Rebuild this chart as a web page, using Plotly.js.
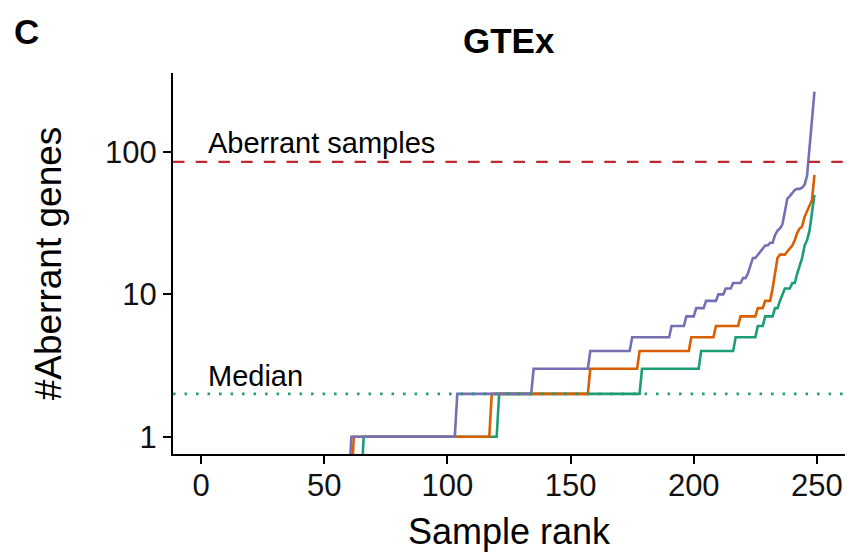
<!DOCTYPE html>
<html>
<head>
<meta charset="utf-8">
<script src="https://cdn.plot.ly/plotly-3.0.1.min.js"></script>
<style>html,body{margin:0;padding:0;background:#fff;}#chart{width:847px;height:557px;}</style>
</head>
<body>
<div id="chart"></div>
<script>
// Run-length data: first sample rank of each run and its #aberrant genes value
const nSamples = 249;
const purpleStart = [1, 61, 104, 135, 158, 175, 191, 197, 201, 205, 210, 213, 216, 220, 222, 223, 224, 226, 227, 228, 229, 231, 233, 234, 235, 236, 237, 238, 239, 240, 241, 242, 244, 245, 246, 247, 248, 249];
const purpleValue = [0, 1, 2, 3, 4, 5, 6, 7, 8, 9, 10, 11, 12, 13, 14, 16, 18, 19, 20, 21, 22, 23, 26, 28, 29, 31, 38, 47, 49, 51, 54, 55, 56, 59, 68, 110, 170, 265];
const orangeStart = [1, 62, 118, 158, 178, 199, 209, 219, 226, 229, 232, 233, 234, 235, 238, 239, 240, 241, 242, 243, 244, 245, 246, 247, 248, 249];
const orangeValue = [0, 1, 2, 3, 4, 5, 6, 7, 8, 9, 11, 14, 18, 19, 20, 21, 22, 24, 27, 29, 30, 35, 38, 42, 46, 69];
const greenStart = [1, 66, 121, 179, 203, 217, 226, 229, 233, 235, 236, 237, 240, 242, 243, 244, 245, 246, 247, 248, 249];
const greenValue = [0, 1, 2, 3, 4, 5, 6, 7, 8, 9, 10, 11, 12, 14, 16, 18, 22, 24, 28, 38, 50];
const aberrantThreshold = 85;
const medianValue = 2;
const xTicks = [0, 50, 100, 150, 200, 250];
const yTicks = [1, 10, 100];

const xRange = [-11.4, 261.4];
const yRange = [-0.121, 2.554];
const yFloor = 0.45; // zero counts: drawn below the panel floor (clipped)

function expand(starts, values) {
  const x = [], y = [];
  let k = 0;
  for (let r = 1; r <= nSamples; r++) {
    while (k + 1 < starts.length && starts[k + 1] <= r) k++;
    x.push(r);
    y.push(values[k] > 0 ? values[k] : yFloor);
  }
  return {x, y};
}

const g = expand(greenStart, greenValue);
const o = expand(orangeStart, orangeValue);
const p = expand(purpleStart, purpleValue);

const FONT = 'Liberation Sans, Arial, sans-serif';

const traces = [
  {x: g.x, y: g.y, mode: 'lines', line: {color: '#1B9E77', width: 2.6}, hoverinfo: 'skip'},
  {x: o.x, y: o.y, mode: 'lines', line: {color: '#D95F02', width: 2.6}, hoverinfo: 'skip'},
  {x: p.x, y: p.y, mode: 'lines', line: {color: '#7570B3', width: 2.6}, hoverinfo: 'skip'},
  {x: xRange, y: [aberrantThreshold, aberrantThreshold], mode: 'lines', line: {color: '#C0282D', width: 2.3, dash: '11.5px,11.2px'}, hoverinfo: 'skip'},
  {x: xRange, y: [medianValue, medianValue], mode: 'lines', line: {color: '#2A9B74', width: 2.8, dash: '2.6px,8.9px'}, hoverinfo: 'skip'}
];

const layout = {
  width: 847, height: 557,
  margin: {l: 173, r: 2, t: 73, b: 103},
  paper_bgcolor: '#fff', plot_bgcolor: '#fff',
  showlegend: false,
  font: {family: FONT, color: '#000'},
  xaxis: {
    range: xRange, showgrid: false, zeroline: false,
    showline: true, linecolor: '#000', linewidth: 2,
    ticks: 'outside', ticklen: 8, tickwidth: 2, tickcolor: '#000',
    tickvals: xTicks, ticktext: xTicks.map(String),
    tickfont: {size: 31, family: FONT, color: '#111'},
    ticklabelstandoff: -5,
    title: {text: 'Sample rank', font: {size: 36, family: FONT, color: '#000'}, standoff: 17}
  },
  yaxis: {
    type: 'log', range: yRange, showgrid: false, zeroline: false,
    showline: true, linecolor: '#000', linewidth: 2,
    ticks: 'outside', ticklen: 8, tickwidth: 2, tickcolor: '#000',
    tickvals: yTicks, ticktext: yTicks.map(String),
    tickfont: {size: 31, family: FONT, color: '#111'},
    title: {text: '#Aberrant genes', font: {size: 37, family: FONT, color: '#000'}, standoff: 32}
  },
  annotations: [
    {text: '<b>GTEx</b>', xref: 'paper', yref: 'paper', x: 0.5, y: 1.086, xanchor: 'center', yanchor: 'middle', showarrow: false, font: {size: 35, family: FONT, color: '#000'}},
    {text: '<b>C</b>', xref: 'paper', yref: 'paper', x: -0.24, y: 1.11, xanchor: 'left', yanchor: 'middle', showarrow: false, font: {size: 35, family: FONT, color: '#000'}},
    {text: 'Aberrant samples', xref: 'x', yref: 'y', x: 1.8, y: Math.log10(aberrantThreshold), xanchor: 'left', yanchor: 'bottom', yshift: 1, showarrow: false, font: {size: 29, family: FONT, color: '#000'}},
    {text: 'Median', xref: 'x', yref: 'y', x: 1.8, y: Math.log10(medianValue), xanchor: 'left', yanchor: 'bottom', yshift: 0, showarrow: false, font: {size: 29, family: FONT, color: '#000'}}
  ]
};

Plotly.newPlot('chart', traces, layout, {displayModeBar: false, staticPlot: true});
</script>
</body>
</html>
